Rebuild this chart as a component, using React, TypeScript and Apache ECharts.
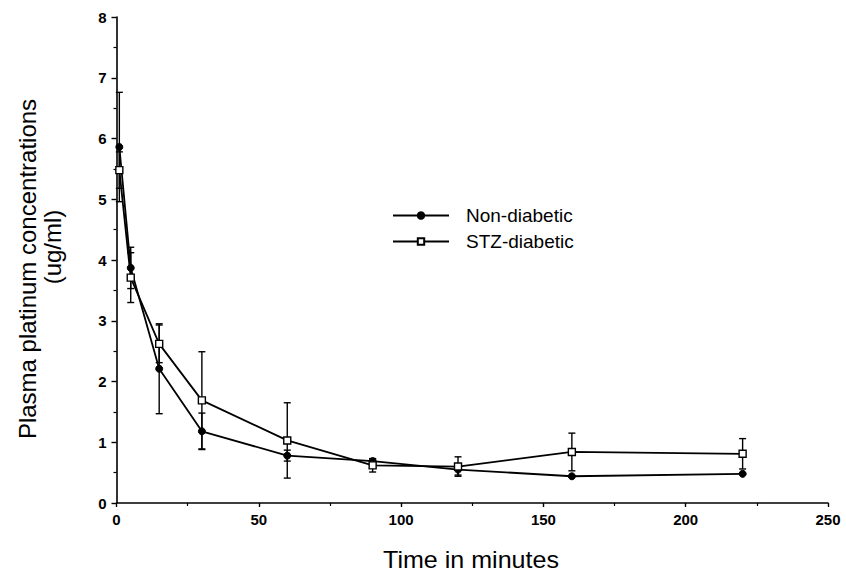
import React, { useEffect, useRef } from "react";
import * as echarts from "echarts";

const times = [1, 5, 15, 30, 60, 90, 120, 160, 220];
const nonDiabetic = [5.86, 3.87, 2.21, 1.18, 0.78, 0.69, 0.55, 0.44, 0.48];
const nonDiabeticErr = [0.9, 0.34, 0.74, 0.3, 0.09, 0.04, 0.09, 0, 0];
const stzDiabetic = [5.48, 3.71, 2.62, 1.69, 1.03, 0.62, 0.6, 0.84, 0.81];
const stzDiabeticErr = [0.3, 0.41, 0.31, 0.8, 0.62, 0.11, 0.16, 0.31, 0.25];
const xTicks = [0, 50, 100, 150, 200, 250];
const yTicks = [0, 1, 2, 3, 4, 5, 6, 7, 8];

function errData(vals: number[], errs: number[]) {
  return times.map((t, i) => [t, vals[i] - errs[i], vals[i] + errs[i]]);
}

function errRender(params: any, api: any) {
  const x = api.value(0);
  const lo = api.coord([x, api.value(1)]);
  const hi = api.coord([x, api.value(2)]);
  const w = 3.5;
  const style = { stroke: "#000", lineWidth: 1.4, fill: null };
  return {
    type: "group",
    children: [
      { type: "line", shape: { x1: lo[0], y1: lo[1], x2: hi[0], y2: hi[1] }, style },
      { type: "line", shape: { x1: lo[0] - w, y1: lo[1], x2: lo[0] + w, y2: lo[1] }, style },
      { type: "line", shape: { x1: hi[0] - w, y1: hi[1], x2: hi[0] + w, y2: hi[1] }, style },
    ],
  };
}

export default function App() {
  const ref = useRef<HTMLDivElement>(null);
  useEffect(() => {
    if (!ref.current) return;
    const chart = echarts.init(ref.current, null, { renderer: "svg" });
    const font = "'Liberation Sans', Arial, Helvetica, sans-serif";
    const axisLabel = { color: "#000", fontWeight: "bold", fontSize: 15, fontFamily: font };
    chart.setOption({
      animation: false,
      backgroundColor: "#fff",
      grid: { left: 116.5, right: 18, top: 17, bottom: 70, containLabel: false },
      xAxis: {
        type: "value",
        min: 0,
        max: 250,
        interval: 50,
        axisLine: { lineStyle: { color: "#000", width: 1.6 } },
        axisTick: { show: true, length: 4, lineStyle: { color: "#000", width: 1.4 } },
        minorTick: { show: true, splitNumber: 2, length: 3, lineStyle: { color: "#000", width: 1.2 } },
        splitLine: { show: false },
        axisLabel: { ...axisLabel, margin: 9, formatter: (v: number) => (xTicks.includes(v) ? String(v) : "") },
      },
      yAxis: {
        type: "value",
        min: 0,
        max: 8,
        interval: 1,
        axisLine: { show: true, lineStyle: { color: "#000", width: 1.6 } },
        axisTick: { show: true, length: 5, lineStyle: { color: "#000", width: 1.4 } },
        minorTick: { show: true, splitNumber: 2, length: 3, lineStyle: { color: "#000", width: 1.2 } },
        splitLine: { show: false },
        axisLabel: { ...axisLabel, margin: 10, formatter: (v: number) => (yTicks.includes(v) ? String(v) : "") },
      },
      legend: {
        orient: "vertical",
        left: 392,
        top: 206,
        padding: 0,
        itemGap: 7,
        itemWidth: 56,
        itemHeight: 8,
        textStyle: { color: "#000", fontSize: 19, fontFamily: font, padding: [0, 0, 0, 12] },
        data: ["Non-diabetic", "STZ-diabetic"],
      },
      graphic: [
        {
          type: "text",
          x: 27,
          y: 269,
          rotation: Math.PI / 2,
          style: {
            text: "Plasma platinum concentrations",
            fontSize: 24,
            fontFamily: font,
            fill: "#000",
            align: "center",
            verticalAlign: "middle",
          },
        },
        {
          type: "text",
          x: 52,
          y: 247,
          rotation: Math.PI / 2,
          style: {
            text: "(ug/ml)",
            fontSize: 24,
            fontFamily: font,
            fill: "#000",
            align: "center",
            verticalAlign: "middle",
          },
        },
        {
          type: "text",
          x: 471,
          y: 560,
          scaleX: 1.09,
          style: {
            text: "Time in minutes",
            fontSize: 23,
            fontFamily: font,
            fill: "#000",
            align: "center",
            verticalAlign: "middle",
          },
        },
      ],
      series: [
        {
          name: "STZ-diabetic-err",
          type: "custom",
          renderItem: errRender,
          data: errData(stzDiabetic, stzDiabeticErr),
          z: 1,
        },
        {
          name: "Non-diabetic-err",
          type: "custom",
          renderItem: errRender,
          data: errData(nonDiabetic, nonDiabeticErr),
          z: 1,
        },
        {
          name: "Non-diabetic",
          type: "line",
          data: times.map((t, i) => [t, nonDiabetic[i]]),
          symbol: "circle",
          symbolSize: 7,
          itemStyle: { color: "#000", borderColor: "#000", borderWidth: 1 },
          lineStyle: { color: "#000", width: 1.8 },
          z: 3,
        },
        {
          name: "STZ-diabetic",
          type: "line",
          data: times.map((t, i) => [t, stzDiabetic[i]]),
          symbol: "rect",
          symbolSize: 7,
          itemStyle: { color: "#fff", borderColor: "#000", borderWidth: 1.4 },
          lineStyle: { color: "#000", width: 1.8 },
          z: 4,
        },
      ],
    });
    return () => chart.dispose();
  }, []);
  return <div ref={ref} style={{ position: "fixed", left: 0, top: 0, width: 846, height: 573 }} />;
}
